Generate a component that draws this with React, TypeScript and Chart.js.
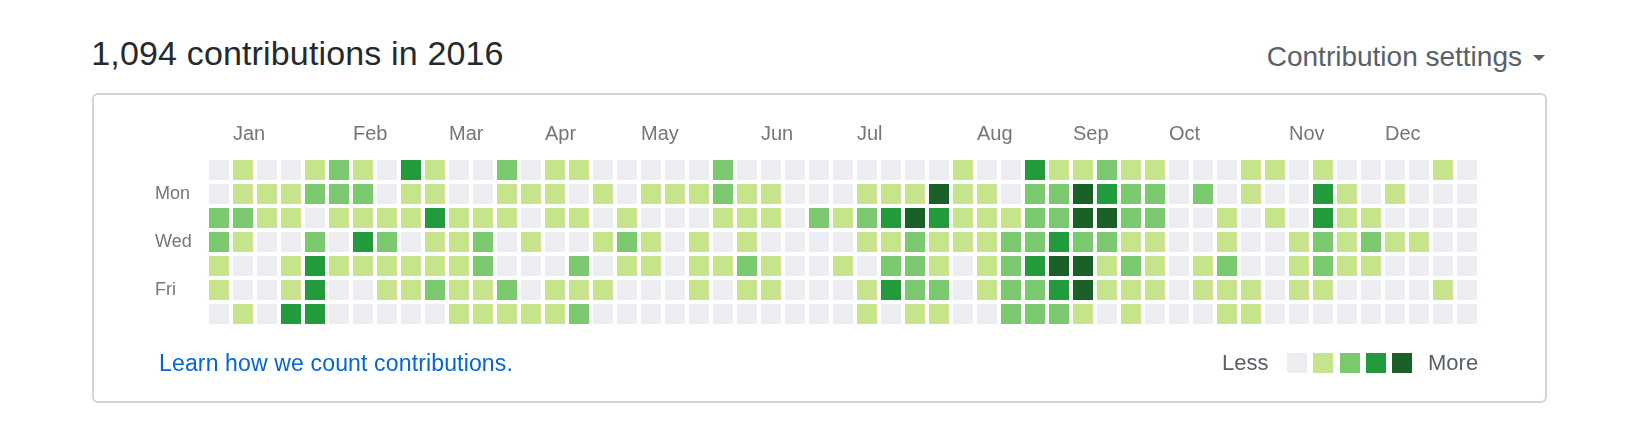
import React, { useEffect, useRef } from "react";
import { Chart, registerables } from "chart.js";

Chart.register(...registerables);

// ---- data ----
const totalContributions = "1,094";
const year = "2016";

const monthLabels = ["Jan", "Feb", "Mar", "Apr", "May", "Jun", "Jul", "Aug", "Sep", "Oct", "Nov", "Dec"];
const monthStartWeeks = [1, 6, 10, 14, 18, 23, 27, 32, 36, 40, 45, 49];

const dayLabels = ["Mon", "Wed", "Fri"];
const dayLabelRows = [1, 3, 5];

const levelColors = ["#ebedf0", "#c6e48b", "#7bc96f", "#239a3b", "#196127"];

// contribution level (0-4) per week, one array per weekday row
const sunLevels = [0,1,0,0,1,2,1,0,3,1, 0,0,2,0,1,1,0,0,0,0, 0,2,0,0,0,0,0,0,0,0, 0,1,0,0,3,1,1,2,1,1, 0,0,0,1,1,0,1,0,0,0, 0,1,0];
const monLevels = [0,1,1,1,2,2,2,0,1,1, 0,0,1,1,1,0,1,0,1,1, 1,2,1,1,0,0,0,1,1,1, 4,1,1,0,2,2,4,3,2,2, 0,2,0,1,0,0,3,1,0,1, 0,0,0];
const tueLevels = [2,2,1,1,0,1,1,1,1,3, 1,1,1,0,1,1,0,1,0,0, 0,1,1,1,0,2,1,2,3,4, 3,1,1,1,2,2,4,4,2,2, 0,0,1,0,1,0,3,1,1,0, 0,0,0];
const wedLevels = [2,1,0,0,2,0,3,2,0,1, 1,2,0,1,0,0,1,2,1,0, 1,0,1,0,0,0,0,1,1,2, 1,1,1,2,2,3,2,2,1,1, 0,0,1,0,0,1,2,1,2,1, 1,0,0];
const thuLevels = [1,0,0,1,3,1,1,1,1,1, 1,2,0,0,0,2,0,1,1,0, 1,1,2,1,0,0,1,0,2,2, 1,0,1,2,3,4,4,1,2,1, 0,1,2,0,0,1,2,1,1,0, 0,0,0];
const friLevels = [1,0,0,1,3,0,0,1,1,2, 1,1,2,0,1,1,1,0,0,0, 1,0,1,1,0,0,0,1,3,2, 2,0,1,2,2,3,4,1,1,1, 0,1,1,1,0,1,1,0,0,0, 0,1,0];
const satLevels = [0,1,0,3,3,0,0,0,0,0, 1,1,1,1,1,2,0,0,0,0, 0,0,0,0,0,0,0,1,0,1, 1,0,0,2,2,2,1,0,1,0, 0,0,1,1,0,0,0,0,0,0, 0,0,0];

const weekdayRows = [sunLevels, monLevels, tueLevels, wedLevels, thuLevels, friLevels, satLevels];

const FONT = '"Liberation Sans", Arial, Helvetica, sans-serif';

export default function App() {
  const canvasRef = useRef<HTMLCanvasElement | null>(null);

  useEffect(() => {
    const canvas = canvasRef.current;
    if (!canvas) return;

    const points: { x: number; y: number }[] = [];
    const colors: string[] = [];
    weekdayRows.forEach((row, day) => {
      row.forEach((level, week) => {
        points.push({ x: week, y: day });
        colors.push(levelColors[level]);
      });
    });

    const chart = new Chart(canvas, {
      type: "scatter",
      data: {
        datasets: [
          {
            data: points,
            backgroundColor: colors,
            borderWidth: 0,
            pointStyle: "rect",
            pointRadius: 10 * Math.SQRT2,
            pointHoverRadius: 10 * Math.SQRT2,
            clip: false,
          } as any,
        ],
      },
      options: {
        responsive: false,
        animation: false,
        events: [],
        layout: { padding: { left: 155, top: 100, right: 159, bottom: 118 } },
        plugins: { legend: { display: false }, tooltip: { enabled: false } },
        scales: {
          x: {
            type: "linear",
            position: "top",
            min: -0.5,
            max: 52.5,
            grid: { display: false, drawTicks: false },
            border: { display: false },
            afterFit: (scale: any) => {
              scale.height = 58;
            },
            afterBuildTicks: (scale: any) => {
              scale.ticks = monthStartWeeks.map((v) => ({ value: v }));
            },
            ticks: {
              autoSkip: false,
              maxRotation: 0,
              minRotation: 0,
              align: "start",
              labelOffset: -10,
              padding: 12,
              color: "#767676",
              font: { family: FONT, size: 20 },
              callback: (_v: any, i: number) => monthLabels[i],
            },
          },
          y: {
            type: "linear",
            position: "left",
            reverse: true,
            min: -0.5,
            max: 6.5,
            grid: { display: false, drawTicks: false },
            border: { display: false },
            afterFit: (scale: any) => {
              scale.width = 52;
            },
            afterBuildTicks: (scale: any) => {
              scale.ticks = dayLabelRows.map((v) => ({ value: v }));
            },
            ticks: {
              autoSkip: false,
              crossAlign: "far",
              padding: 0,
              color: "#767676",
              font: { family: FONT, size: 18 },
              callback: (_v: any, i: number) => dayLabels[i],
            },
          },
        },
      } as any,
    });

    return () => chart.destroy();
  }, []);

  const textBase: React.CSSProperties = {
    position: "absolute",
    whiteSpace: "nowrap",
    fontFamily: FONT,
  };

  const legendLefts = [1287, 1313, 1340, 1366, 1392];

  return (
    <div
      style={{
        position: "fixed",
        left: 0,
        top: 0,
        width: 1638,
        height: 444,
        background: "#ffffff",
        overflow: "hidden",
      }}
    >
      <div
        style={{
          ...textBase,
          left: 91.3,
          top: 35.5,
          fontSize: 34,
          lineHeight: "34px",
          letterSpacing: "0.15px",
          color: "#24292e",
        }}
      >
        {totalContributions} contributions in {year}
      </div>
      <div
        style={{
          ...textBase,
          right: 1638 - 1522,
          top: 43,
          fontSize: 28,
          lineHeight: "28px",
          color: "#586069",
        }}
      >
        Contribution settings
      </div>
      <div
        style={{
          position: "absolute",
          left: 1533,
          top: 55,
          width: 0,
          height: 0,
          borderLeft: "6px solid transparent",
          borderRight: "6px solid transparent",
          borderTop: "6px solid #586069",
        }}
      />
      <div
        style={{
          position: "absolute",
          left: 92,
          top: 93,
          width: 1455,
          height: 310,
          border: "2px solid #d1d5da",
          borderRadius: 6,
          boxSizing: "border-box",
        }}
      />
      <canvas
        ref={canvasRef}
        width={1638}
        height={444}
        style={{ position: "absolute", left: 0, top: 0, display: "block", pointerEvents: "none" }}
      />
      <div
        style={{
          ...textBase,
          left: 159,
          top: 352,
          fontSize: 23,
          lineHeight: "23px",
          letterSpacing: "0.15px",
          color: "#0366d6",
        }}
      >
        Learn how we count contributions.
      </div>
      <div
        style={{
          ...textBase,
          left: 1222,
          top: 352.4,
          fontSize: 22,
          lineHeight: "22px",
          color: "#586069",
        }}
      >
        Less
      </div>
      {levelColors.map((c, i) => (
        <div
          key={c}
          style={{
            position: "absolute",
            left: legendLefts[i],
            top: 353,
            width: 20,
            height: 20,
            background: c,
          }}
        />
      ))}
      <div
        style={{
          ...textBase,
          left: 1428,
          top: 352.4,
          fontSize: 22,
          lineHeight: "22px",
          color: "#586069",
        }}
      >
        More
      </div>
    </div>
  );
}
